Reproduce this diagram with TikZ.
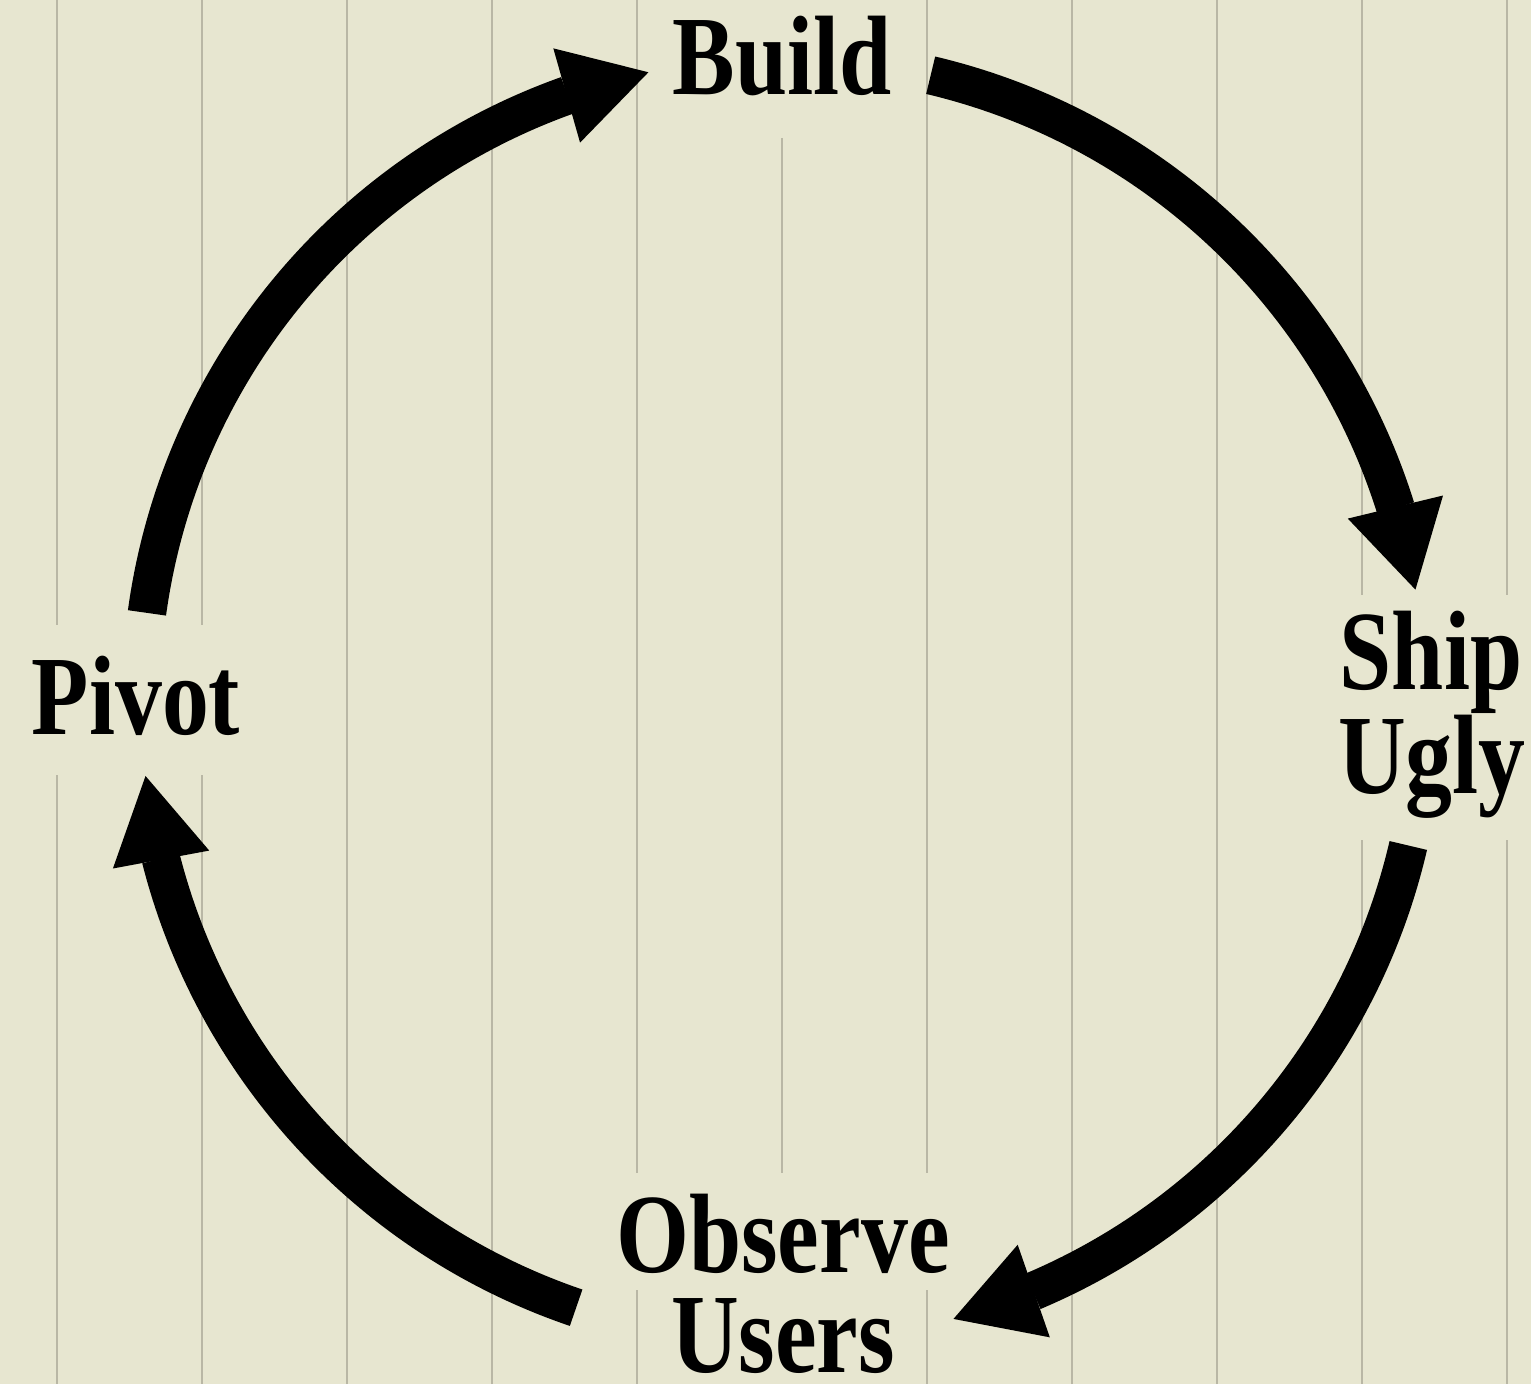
\documentclass[tikz,border=0pt]{standalone}
\usepackage{fontspec}
\newfontfamily\labfont[FakeStretch=0.83]{Liberation Serif Bold}
\usetikzlibrary{arrows.meta,bending}
\definecolor{bgc}{HTML}{E7E6D0}
\definecolor{rulec}{HTML}{B9B7A5}
\tikzset{
  rule/.style={draw=rulec, line width=0.04cm},
  cyc/.style={draw=black, line width=0.77cm,
    -{Triangle[length=1.7cm,width=1.96cm,line width=0pt,flex]}},
  lab/.style={inner sep=0pt, anchor=base, text=black,
    font=\labfont\fontsize{64.3pt}{57.5pt}\selectfont}
}
\begin{document}
\begin{tikzpicture}[x=0.02cm,y=0.02cm]
\useasboundingbox (0,0) rectangle (1531,1384);
\fill[bgc] (0,0) rectangle (1531,1384);
% ruled vertical lines
\foreach \x in {347,492,1072,1217} \draw[rule] (\x,0) -- (\x,1384);
\foreach \x in {57,202} {\draw[rule] (\x,1384) -- (\x,759); \draw[rule] (\x,609) -- (\x,0);}
\foreach \x in {637,927} {\draw[rule] (\x,1384) -- (\x,211); \draw[rule] (\x,94) -- (\x,0);}
\draw[rule] (782,1246) -- (782,211);
\foreach \x in {1362,1507} {\draw[rule] (\x,1384) -- (\x,789); \draw[rule] (\x,544) -- (\x,0);}
% labels
\node[lab] (build) at (782,1289) {Build};
\node[lab] (pivot) at (136,649) {Pivot};
\node[lab] (ship) at (1431,694) {Ship};
\node[lab] (ugly) at (1432,591) {Ugly};
\node[lab] (observe) at (783,112) {Observe};
\node[lab] (users) at (783,12) {Users};
% cycle arcs
\coordinate (c) at (783,684);
\path (c) ++(76.7:642) coordinate (a1);
\path (c) ++(-13.1:642) coordinate (a2);
\path (c) ++(-108.8:642) coordinate (a3);
\path (c) ++(172.2:642) coordinate (a4);
\draw[cyc] (a1) arc[start angle=76.7, end angle=9.9, radius=642];
\draw[cyc] (a2) arc[start angle=-13.1, end angle=-74.6, radius=642];
\draw[cyc] (a3) arc[start angle=-108.8, end angle=-173.2, radius=642];
\draw[cyc] (a4) arc[start angle=172.2, end angle=102.1, radius=642];
\end{tikzpicture}
\end{document}
